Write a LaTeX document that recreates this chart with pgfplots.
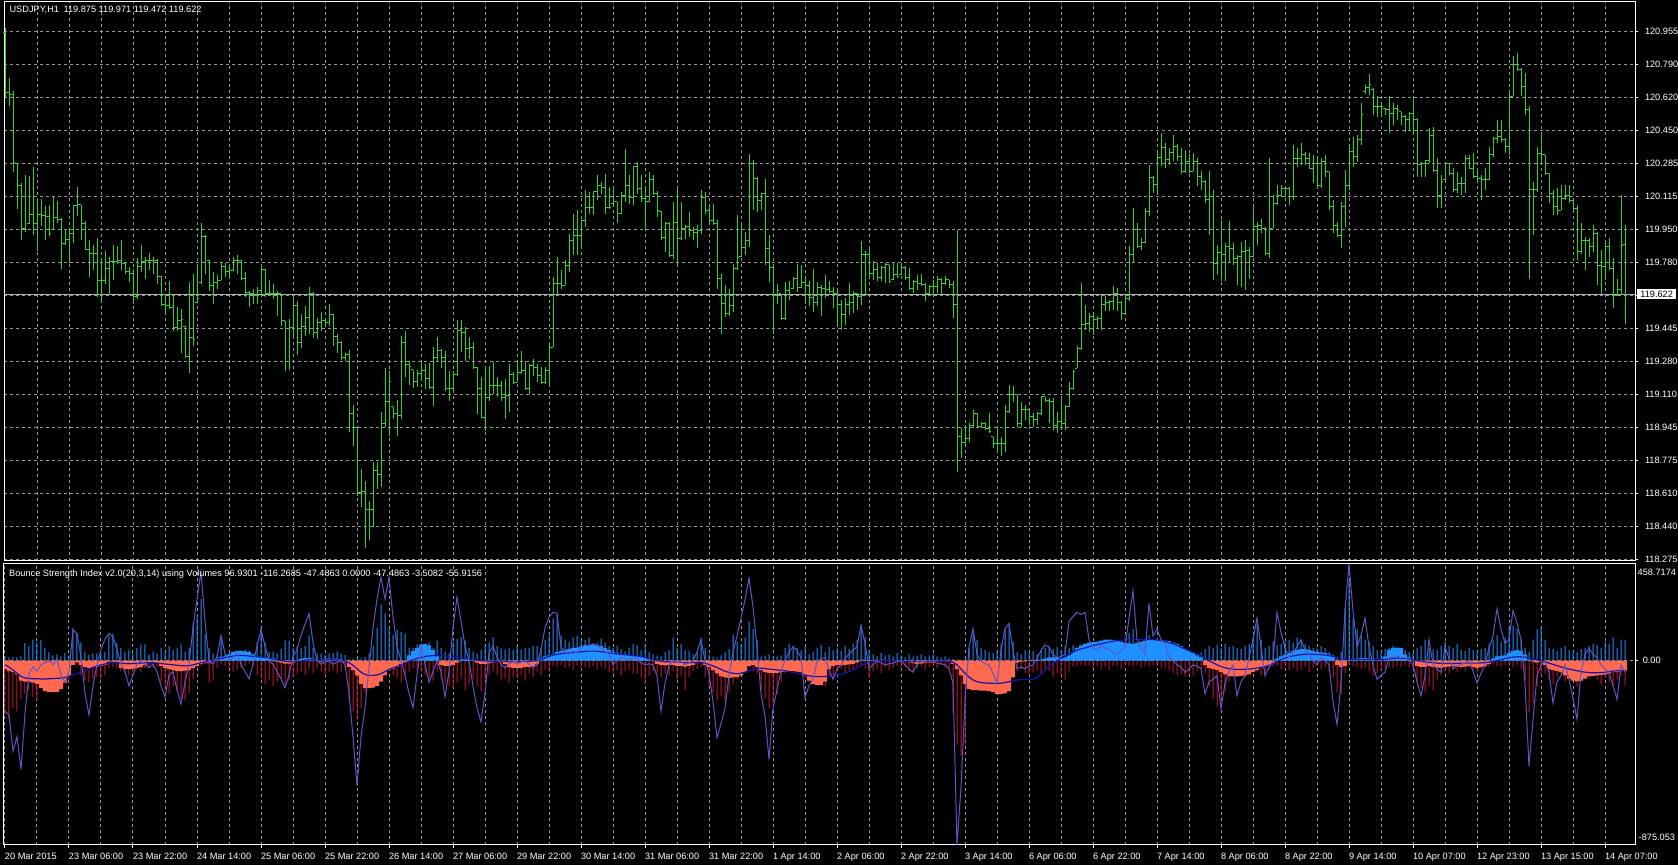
\documentclass[border=0pt]{standalone}
\usepackage{fontspec}
\setmainfont{Liberation Sans}
\usepackage{pgfplots}
\usepackage{pgfplotstable}
\pgfplotsset{compat=1.18}
\definecolor{barg}{RGB}{55,205,45}
\definecolor{gridc}{RGB}{150,150,150}
\definecolor{pricel}{RGB}{175,175,185}
\definecolor{upb}{RGB}{30,144,255}
\definecolor{dnr}{RGB}{190,25,55}
\definecolor{salm}{RGB}{255,105,80}
\definecolor{sigc}{RGB}{20,20,170}
\definecolor{oscc}{RGB}{95,85,195}
\pgfdeclareplotmark{otick}{\pgfpathmoveto{\pgfqpoint{-1.1pt}{0pt}}\pgfpathlineto{\pgfqpoint{0pt}{0pt}}\pgfusepathqstroke}
\pgfdeclareplotmark{ctick}{\pgfpathmoveto{\pgfqpoint{0pt}{0pt}}\pgfpathlineto{\pgfqpoint{1.1pt}{0pt}}\pgfusepathqstroke}
\newcommand{\lbl}{\fontsize{4.6}{5.5}\selectfont}

\pgfplotstableread{
o h l c
120.950 120.974 120.623 120.648
120.648 120.720 120.580 120.638
120.638 120.652 120.244 120.292
120.285 120.288 120.052 120.172
120.172 120.185 119.897 119.957
119.957 120.228 119.940 119.949
119.980 120.220 119.980 120.026
120.026 120.266 119.924 119.983
119.983 120.110 119.840 120.026
120.026 120.107 119.966 120.021
120.021 120.070 119.897 120.017
120.017 120.077 119.915 119.932
119.950 120.117 119.950 120.009
120.009 120.095 119.983 120.000
120.000 120.009 119.752 119.880
119.880 119.954 119.871 119.897
119.897 119.957 119.781 119.932
119.932 120.077 119.880 120.072
120.072 120.166 120.020 120.077
120.077 120.077 119.897 119.983
119.983 119.992 119.846 119.850
119.850 119.897 119.709 119.829
119.829 119.870 119.742 119.829
119.829 119.905 119.606 119.692
119.692 119.803 119.575 119.692
119.692 119.843 119.675 119.752
119.752 119.812 119.615 119.786
119.786 119.870 119.692 119.786
119.786 119.867 119.774 119.791
119.791 119.897 119.742 119.778
119.778 119.786 119.726 119.735
119.735 119.760 119.683 119.726
119.726 119.752 119.572 119.610
119.610 119.803 119.597 119.760
119.760 119.870 119.734 119.786
119.786 119.812 119.700 119.791
119.791 119.829 119.742 119.795
119.795 119.810 119.726 119.791
119.791 119.800 119.675 119.709
119.709 119.712 119.563 119.568
119.568 119.623 119.520 119.563
119.563 119.690 119.546 119.555
119.555 119.623 119.435 119.452
119.452 119.555 119.435 119.486
119.486 119.546 119.323 119.495
119.460 119.460 119.297 119.306
119.306 119.683 119.220 119.400
119.400 119.726 119.358 119.392
119.580 119.770 119.580 119.598
119.680 119.983 119.675 119.915
119.915 119.923 119.726 119.915
119.795 119.795 119.640 119.666
119.666 119.735 119.572 119.683
119.683 119.717 119.648 119.692
119.692 119.786 119.692 119.760
119.760 119.780 119.709 119.735
119.735 119.777 119.700 119.743
119.743 119.810 119.742 119.795
119.795 119.820 119.726 119.791
119.791 119.795 119.692 119.700
119.700 119.735 119.606 119.632
119.632 119.640 119.555 119.623
119.623 119.649 119.572 119.615
119.615 119.658 119.572 119.641
119.641 119.770 119.623 119.747
119.747 119.752 119.606 119.623
119.623 119.692 119.615 119.623
119.623 119.675 119.597 119.627
119.627 119.640 119.512 119.623
119.623 119.623 119.460 119.486
119.486 119.486 119.232 119.280
119.280 119.495 119.238 119.452
119.452 119.615 119.409 119.563
119.563 119.589 119.315 119.375
119.375 119.520 119.349 119.460
119.460 119.563 119.409 119.503
119.503 119.658 119.418 119.623
119.623 119.632 119.400 119.426
119.426 119.503 119.392 119.478
119.478 119.529 119.435 119.486
119.486 119.503 119.460 119.478
119.478 119.572 119.460 119.520
119.520 119.520 119.358 119.409
119.409 119.418 119.323 119.375
119.375 119.383 119.289 119.298
119.298 119.323 119.280 119.315
119.315 119.340 118.920 119.015
119.015 119.058 118.852 118.946
118.946 118.946 118.595 118.612
118.612 118.732 118.543 118.621
118.621 118.672 118.330 118.526
118.526 118.569 118.372 118.526
118.526 118.767 118.440 118.724
118.724 118.767 118.630 118.706
118.706 119.024 118.640 118.963
118.963 119.246 118.946 119.075
119.075 119.229 118.903 119.178
119.050 119.050 118.990 119.015
119.015 119.083 118.903 119.006
119.006 119.409 118.990 119.375
119.375 119.435 119.203 119.263
119.263 119.280 119.160 119.255
119.238 119.238 119.143 119.178
119.178 119.238 119.150 119.220
119.220 119.280 119.180 119.233
119.233 119.267 119.140 119.191
119.191 119.270 119.140 119.149
119.149 119.355 119.055 119.301
119.301 119.406 119.284 119.335
119.335 119.344 119.247 119.301
119.301 119.335 119.132 119.140
119.140 119.230 119.081 119.140
119.140 119.233 119.132 119.216
119.216 119.488 119.208 119.437
119.437 119.488 119.327 119.428
119.428 119.454 119.284 119.344
119.344 119.403 119.293 119.352
119.352 119.378 119.242 119.250
119.250 119.250 119.013 119.140
119.140 119.200 118.996 118.996
118.996 119.250 118.928 119.098
119.098 119.259 119.081 119.157
119.157 119.276 119.115 119.157
119.157 119.200 119.098 119.157
119.157 119.183 119.081 119.098
119.098 119.191 118.988 119.106
119.106 119.267 119.021 119.216
119.216 119.225 119.166 119.174
119.174 119.276 119.174 119.225
119.225 119.335 119.217 119.233
119.233 119.284 119.135 119.140
119.140 119.267 119.115 119.259
119.259 119.293 119.208 119.250
119.250 119.267 119.174 119.208
119.208 119.250 119.166 119.174
119.174 119.254 119.166 119.233
119.233 119.378 119.166 119.352
119.352 119.708 119.352 119.674
119.674 119.810 119.615 119.674
119.674 119.742 119.649 119.666
119.666 119.793 119.666 119.768
119.768 119.929 119.734 119.895
119.895 120.031 119.819 119.920
119.920 120.048 119.819 119.920
119.920 119.997 119.853 119.997
119.997 120.149 119.963 120.064
120.064 120.140 120.031 120.061
120.061 120.144 120.022 120.141
120.141 120.226 120.098 120.175
120.175 120.191 120.132 120.166
120.166 120.234 120.031 120.064
120.064 120.166 120.056 120.064
120.081 120.158 120.081 120.090
120.090 120.090 119.983 120.031
120.031 120.140 120.031 120.124
120.124 120.361 120.090 120.175
120.175 120.226 120.081 120.115
120.115 120.271 120.073 120.268
120.268 120.293 120.132 120.158
120.158 120.226 120.090 120.107
120.107 120.166 119.946 120.090
120.090 120.243 120.090 120.204
120.204 120.226 120.124 120.132
120.132 120.145 120.014 120.048
120.043 120.043 119.895 119.912
119.912 119.988 119.836 119.983
119.983 119.988 119.810 119.819
119.819 120.090 119.802 119.988
119.988 120.158 119.776 119.903
119.903 120.090 119.895 119.954
119.954 119.971 119.904 119.963
119.963 120.039 119.912 119.946
119.946 119.963 119.895 119.937
119.937 119.971 119.857 119.946
119.946 120.149 119.929 120.115
120.115 120.140 120.031 120.048
120.048 120.081 119.988 119.997
119.997 120.078 119.971 119.983
119.983 119.997 119.649 119.700
119.700 119.725 119.417 119.573
119.573 119.666 119.505 119.522
119.522 119.649 119.513 119.564
119.564 119.776 119.530 119.751
119.751 120.022 119.742 119.810
119.813 119.980 119.813 119.861
119.861 119.937 119.819 119.895
119.895 120.332 119.861 120.285
120.285 120.302 120.048 120.209
120.209 120.217 120.039 120.098
120.098 120.132 120.048 120.132
120.132 120.209 119.768 119.853
119.853 119.920 119.683 119.759
119.759 119.768 119.420 119.615
119.615 119.674 119.573 119.641
119.624 119.624 119.488 119.496
119.496 119.683 119.491 119.641
119.641 119.691 119.590 119.615
119.649 119.708 119.649 119.700
119.700 119.776 119.632 119.658
119.658 119.768 119.657 119.683
119.683 119.708 119.573 119.666
119.666 119.691 119.564 119.607
119.607 119.751 119.530 119.581
119.581 119.683 119.564 119.658
119.658 119.666 119.513 119.649
119.649 119.721 119.602 119.644
119.644 119.687 119.628 119.636
119.636 119.656 119.551 119.627
119.627 119.636 119.466 119.568
119.568 119.593 119.441 119.517
119.517 119.602 119.466 119.568
119.568 119.678 119.517 119.577
119.577 119.636 119.526 119.627
119.627 119.627 119.543 119.610
119.610 119.890 119.568 119.822
119.822 119.839 119.610 119.822
119.822 119.856 119.704 119.729
119.729 119.789 119.695 119.746
119.746 119.780 119.687 119.704
119.704 119.763 119.687 119.755
119.755 119.780 119.678 119.772
119.772 119.772 119.678 119.687
119.695 119.780 119.695 119.721
119.721 119.780 119.704 119.712
119.721 119.780 119.721 119.755
119.755 119.763 119.695 119.704
119.704 119.755 119.644 119.653
119.653 119.695 119.627 119.687
119.687 119.721 119.644 119.678
119.678 119.724 119.661 119.670
119.670 119.678 119.585 119.627
119.627 119.670 119.610 119.661
119.661 119.695 119.619 119.661
119.661 119.712 119.627 119.695
119.695 119.704 119.619 119.678
119.678 119.716 119.670 119.695
119.695 119.695 119.653 119.670
119.670 119.687 119.500 119.568
119.568 119.950 118.720 118.900
118.900 118.940 118.790 118.870
118.870 118.957 118.856 118.890
118.890 118.966 118.873 118.957
118.957 119.034 118.940 119.017
119.017 119.017 118.940 118.949
118.949 118.974 118.940 118.966
118.966 118.974 118.932 118.941
118.941 119.017 118.915 118.924
118.898 118.898 118.839 118.864
118.864 118.949 118.820 118.864
118.864 118.898 118.800 118.864
118.864 119.059 118.820 119.025
119.025 119.161 119.017 119.110
119.110 119.153 119.076 119.110
119.110 119.110 118.949 118.966
118.966 119.076 118.949 119.034
119.034 119.059 118.983 119.034
119.034 119.034 118.957 119.000
119.000 119.017 118.949 118.983
118.983 119.025 118.957 119.017
119.017 119.101 119.008 119.101
119.101 119.101 119.076 119.084
119.084 119.093 118.966 119.076
119.076 119.093 118.932 118.957
118.957 119.025 118.915 118.974
118.974 119.101 118.932 118.966
118.966 119.059 118.932 119.051
119.051 119.178 119.051 119.144
119.144 119.237 119.136 119.230
119.246 119.356 119.246 119.348
119.348 119.678 119.339 119.466
119.466 119.568 119.441 119.475
119.475 119.526 119.432 119.509
119.509 119.526 119.415 119.492
119.492 119.509 119.450 119.500
119.500 119.619 119.441 119.568
119.568 119.610 119.534 119.577
119.577 119.593 119.534 119.582
119.582 119.661 119.543 119.627
119.627 119.653 119.534 119.577
119.577 119.585 119.492 119.526
119.526 119.610 119.526 119.602
119.602 119.865 119.585 119.822
119.822 120.060 119.780 119.950
119.950 119.984 119.856 119.865
119.865 119.907 119.848 119.882
119.882 120.060 119.882 120.043
120.043 120.280 120.017 120.213
120.213 120.221 120.136 120.179
120.179 120.348 120.136 120.314
120.314 120.442 120.272 120.365
120.365 120.390 120.263 120.306
120.306 120.365 120.280 120.340
120.340 120.430 120.297 120.374
120.374 120.382 120.297 120.323
120.323 120.365 120.230 120.246
120.246 120.352 120.238 120.297
120.297 120.335 120.238 120.246
120.246 120.340 120.246 120.297
120.297 120.314 120.170 120.221
120.221 120.246 120.153 120.196
120.196 120.204 120.085 120.103
120.103 120.246 119.924 120.119
120.119 120.153 119.695 119.780
119.780 119.873 119.721 119.831
119.831 120.000 119.687 119.822
119.822 119.882 119.687 119.865
119.865 119.992 119.780 119.856
119.856 119.882 119.772 119.805
119.805 119.823 119.670 119.814
119.814 119.888 119.659 119.837
119.837 119.896 119.642 119.842
119.842 119.862 119.701 119.811
119.811 120.074 119.811 119.964
119.964 119.990 119.871 119.973
119.973 120.006 119.930 119.956
119.956 119.964 119.820 119.828
119.828 120.312 119.803 119.956
119.956 120.125 119.956 120.083
120.083 120.176 120.074 120.125
120.125 120.176 120.117 120.159
120.159 120.168 120.117 120.159
120.159 120.168 120.074 120.117
120.117 120.380 120.100 120.312
120.312 120.363 120.270 120.312
120.312 120.388 120.278 120.329
120.329 120.346 120.278 120.312
120.312 120.337 120.261 120.261
120.261 120.329 120.185 120.286
120.286 120.320 120.159 120.176
120.176 120.312 120.159 120.295
120.295 120.329 120.219 120.244
120.244 120.244 120.049 120.066
120.066 120.100 119.930 119.973
119.973 119.990 119.913 119.922
119.922 120.091 119.854 120.066
120.066 120.252 119.964 120.176
120.176 120.380 120.151 120.346
120.346 120.422 120.270 120.320
120.320 120.430 120.295 120.405
120.405 120.592 120.380 120.532
120.650 120.685 120.640 120.670
120.670 120.741 120.634 120.685
120.660 120.668 120.532 120.575
120.575 120.626 120.524 120.575
120.575 120.592 120.524 120.575
120.566 120.566 120.532 120.558
120.558 120.626 120.439 120.541
120.541 120.592 120.481 120.566
120.566 120.583 120.507 120.558
120.549 120.549 120.481 120.524
120.524 120.532 120.447 120.507
120.507 120.549 120.456 120.541
120.541 120.617 120.430 120.507
120.507 120.515 120.218 120.278
120.278 120.295 120.218 120.286
120.286 120.303 120.218 120.303
120.303 120.464 120.286 120.430
120.430 120.473 120.244 120.252
120.252 120.312 120.057 120.125
120.125 120.227 120.057 120.193
120.202 120.295 120.202 120.286
120.286 120.286 120.227 120.235
120.235 120.261 120.142 120.151
120.151 120.244 120.134 120.185
120.185 120.218 120.125 120.185
120.185 120.329 120.134 120.312
120.312 120.329 120.261 120.261
120.261 120.337 120.210 120.218
120.218 120.261 120.202 120.210
120.210 120.227 120.100 120.202
120.202 120.261 120.151 120.202
120.202 120.371 120.202 120.329
120.329 120.422 120.320 120.414
120.414 120.507 120.388 120.422
120.422 120.507 120.397 120.405
120.405 120.413 120.337 120.371
120.371 120.651 120.329 120.626
120.626 120.829 120.626 120.787
120.787 120.846 120.753 120.761
120.761 120.770 120.626 120.676
120.676 120.744 120.532 120.558
120.558 120.575 119.701 120.151
120.151 120.193 119.922 120.151
120.151 120.371 120.142 120.337
120.337 120.439 120.295 120.329
120.329 120.329 120.227 120.235
120.235 120.235 120.083 120.134
120.134 120.151 120.023 120.066
120.066 120.159 120.023 120.049
120.049 120.176 120.049 120.108
120.108 120.176 120.100 120.125
120.125 120.176 120.083 120.100
120.100 120.108 120.049 120.057
120.057 120.074 119.794 119.837
119.837 119.981 119.828 119.896
119.896 119.913 119.744 119.896
119.896 119.905 119.811 119.862
119.862 119.973 119.837 119.930
119.930 119.939 119.667 119.769
119.769 119.845 119.625 119.761
119.761 119.888 119.693 119.862
119.862 119.905 119.744 119.752
119.752 119.803 119.549 119.617
119.617 119.701 119.616 119.645
119.645 120.125 119.616 119.870
119.875 119.971 119.472 119.622
}\price

\pgfplotstableread{
up dn ar sg os
17 -258 -40 -20 -240
15 -275 -50 -30 -258
18 -224 -55 -45 -430
17 -241 -65 -60 -361
20 -181 -95 -75 -516
83 -155 -100 -82 -250
69 -138 -100 -85 -60
100 -172 -105 -86 -30
86 -189 -110 -86 -50
100 -120 -130 -87 -20
60 -95 -145 -87 -10
40 -86 -150 -86 0
25 -77 -150 -85 -20
30 -69 -148 -84 10
20 -52 -135 -83 -69
35 -77 -105 -80 -103
25 -95 -70 -75 -52
155 -17 -20 -68 146
129 -26 -8 -62 129
86 -69 -20 -55 17
43 -95 -30 -48 -155
26 -103 -35 -40 -258
34 -86 -35 -32 -120
34 -77 -30 -26 -17
34 -95 -25 -20 52
43 -69 -20 -16 103
120 -34 -5 -12 129
129 -30 -5 -10 112
83 -34 -10 -10 52
60 -52 -35 -12 -17
43 -60 -40 -14 -52
52 -69 -40 -15 -120
34 -52 -38 -14 -69
60 -43 -35 -13 -17
77 -52 -30 -12 0
77 -34 -20 -10 -17
26 -26 -10 -9 -34
43 -34 -8 -10 -17
34 -30 -10 -12 -52
60 -103 -25 -14 -120
43 -138 -35 -16 -172
69 -155 -40 -18 -69
52 -120 -45 -20 -52
60 -146 -50 -22 -138
77 -181 -50 -24 -206
43 -189 -48 -25 -103
60 -155 -45 -24 -17
180 -86 -35 -20 155
206 -34 -25 -15 292
292 -26 -15 -10 421
125 -17 -10 -6 189
60 -103 -12 -5 0
34 -95 -5 -2 -17
26 -34 10 5 17
103 -17 18 10 120
34 -26 20 14 34
43 -34 30 18 0
34 -52 42 22 17
26 -43 46 25 34
38 -34 46 25 -17
52 -26 44 24 -52
48 -17 40 22 -86
34 -26 30 20 -17
86 -69 20 18 69
155 -86 18 17 146
86 -112 15 15 69
43 -95 14 12 0
43 -120 12 8 -17
34 -103 -5 4 -52
55 -86 -10 0 -86
95 -112 -14 -3 -129
95 -95 -14 -5 -69
60 -77 -10 -5 17
69 -60 -5 -4 52
60 -52 8 -2 120
69 -69 12 2 172
120 -43 12 4 224
60 -60 10 4 86
34 -34 5 3 0
34 -52 -5 2 -17
26 -69 8 3 -8
34 -52 10 4 0
38 -43 10 4 -17
43 -60 8 3 -8
34 -52 6 2 0
26 -34 -5 0 -17
9 -189 -30 -10 -155
9 -241 -45 -22 -361
12 -284 -70 -38 -593
9 -224 -110 -55 -361
17 -155 -130 -66 -224
34 -120 -130 -70 -34
69 -86 -128 -70 155
155 -69 -120 -68 292
267 -52 -100 -62 396
224 -60 -70 -52 292
155 -34 -45 -42 396
120 -69 -40 -35 206
146 -86 -30 -28 69
138 -103 -15 -20 0
129 -69 -8 -12 -69
60 -52 25 -4 -155
60 -34 45 4 -224
77 -43 60 10 -69
77 -52 75 15 69
77 -69 78 20 -17
86 -86 72 22 -103
60 -95 50 24 -52
95 -52 20 25 0
60 -86 -20 24 -52
43 -112 -25 22 -172
34 -120 -25 20 -52
86 -129 -20 18 155
103 -103 -10 16 301
112 -86 5 14 189
95 -138 6 12 69
60 -112 4 8 0
43 -86 3 5 -120
34 -120 -10 2 -224
52 -146 -15 0 -292
77 -95 -15 -2 -155
86 -69 -12 -3 34
112 -52 -8 -3 69
69 -69 -3 -2 17
60 -95 -5 -2 -17
52 -86 -15 -3 -34
60 -103 -30 -5 -17
52 -77 -35 -6 0
69 -86 -35 -6 -17
52 -69 -35 -5 -8
60 -95 -30 -4 0
60 -60 -30 -3 -17
69 -77 -25 -2 -34
69 -52 -15 0 -17
60 -69 10 5 52
100 -43 20 12 155
120 -52 25 20 206
200 -25 30 26 229
220 -30 40 30 225
120 -20 45 33 65
100 -35 50 35 40
90 -30 55 37 30
110 -45 60 38 45
117 -25 62 40 35
95 -40 66 42 60
100 -30 70 44 75
110 -35 74 45 70
80 -25 74 45 80
85 -40 72 44 70
105 -30 70 42 60
85 -40 60 40 45
70 -55 50 37 30
60 -60 40 34 -20
70 -45 35 32 0
55 -70 32 30 15
45 -50 30 28 10
60 -40 28 26 0
80 -60 25 24 20
75 -60 22 22 5
50 -80 18 20 -10
80 -110 12 15 -20
40 -70 6 10 -15
30 -50 0 5 -20
25 -60 -15 0 -72
20 -80 -20 -3 -241
40 -60 -22 -5 -107
50 -70 -20 -6 -20
108 -50 -20 -6 0
60 -90 -25 -7 -10
80 -70 -25 -8 -5
50 -140 -28 -10 -20
45 -80 -25 -10 -10
30 -50 -20 -9 0
40 -40 -12 -8 40
108 -30 -8 -8 100
60 -80 -20 -12 0
30 -120 -30 -18 -60
20 -150 -45 -25 -193
15 -190 -60 -33 -365
25 -170 -75 -42 -300
40 -200 -80 -50 -227
55 -150 -82 -56 -72
125 -110 -80 -60 40
90 -90 -78 -62 117
80 -60 -70 -60 200
110 -40 -55 -55 289
186 -30 -25 -48 392
150 -50 -20 -42 255
100 -60 -30 -38 65
20 -140 -45 -36 -158
25 -180 -55 -38 -261
30 -227 -58 -40 -468
15 -200 -60 -42 -227
20 -160 -58 -44 -140
25 -100 -55 -46 -50
60 -60 -52 -48 0
80 -50 -50 -52 40
70 -40 -50 -56 65
60 -55 -52 -60 48
50 -60 -55 -64 14
65 -80 -70 -68 -175
30 -100 -95 -72 -120
40 -90 -110 -75 -89
60 -120 -115 -76 -3
75 -110 -115 -76 10
40 -124 -100 -75 14
65 -80 -40 -74 -40
50 -70 -25 -72 -89
60 -50 -20 -70 -40
45 -40 -22 -66 -20
70 -60 -20 -60 10
55 -45 -18 -52 30
80 -40 -15 -44 50
100 -30 -8 -35 65
168 -20 5 -25 168
110 -40 5 -15 82
50 -80 0 -8 -38
30 -50 -3 -4 -20
20 -40 4 -2 -3
35 -60 5 0 -10
25 -30 3 0 -20
30 -45 -2 0 -15
20 -35 3 -1 -12
35 -25 2 -2 -5
25 -40 2 -2 0
15 -30 -5 -3 -20
30 -50 -8 -4 -40
20 -45 -12 -5 -55
25 -35 -15 -6 -20
30 -30 -14 -6 -5
20 -40 -12 -6 0
25 -30 -10 -5 0
30 -25 -8 -4 -5
20 -35 -3 -3 -12
15 -20 -2 -2 -15
20 -30 -2 -2 -20
10 -40 -5 -3 -38
10 -250 -15 -8 -107
5 -400 -40 -20 -875.053
5 -450 -70 -40 -600
8 -400 -110 -60 -193
60 -60 -135 -78 65
150 -50 -140 -92 151
100 -40 -140 -100 30
60 -55 -142 -104 -3
50 -45 -142 -106 -15
40 -60 -145 -107 -20
35 -50 -150 -108 -60
45 -70 -158 -108 -107
80 -40 -158 -107 48
150 -30 -155 -104 151
170 -35 -145 -100 177
90 -60 -80 -96 48
40 -50 -10 -92 -38
30 -40 -5 -90 -30
50 -60 -3 -90 -38
35 -70 -2 -90 -25
45 -55 2 -88 -20
30 -45 3 -80 10
50 -60 5 -65 48
60 -40 10 -45 74
70 -50 15 -28 65
55 -80 15 -12 30
65 -60 14 0 14
50 -70 12 10 20
70 -90 15 20 30
60 -50 25 30 186
75 -30 40 40 210
60 -25 60 50 229
70 -20 72 56 220
80 -25 80 60 229
50 -20 85 66 100
60 -35 88 72 60
40 -25 90 76 50
55 -40 95 80 70
45 -30 100 84 60
60 -45 100 88 55
50 -25 98 92 40
40 -30 95 95 30
60 -40 90 97 45
80 -20 85 98 65
130 -25 82 99 200
150 -30 80 100 332
80 -20 85 100 100
60 -35 90 100 60
50 -25 95 100 30
120 -30 98 100 272
100 -20 100 100 117
80 -25 98 98 151
50 -35 95 95 100
40 -40 95 90 82
45 -45 92 85 14
35 -60 85 80 0
40 -70 80 72 -20
30 -65 70 64 -30
35 -75 55 56 -55
30 -60 45 48 -40
25 -70 35 40 -20
30 -50 25 32 -25
40 -40 15 24 -38
55 -60 -20 12 -158
70 -120 -35 0 -100
60 -180 -40 -10 -89
75 -218 -45 -20 -72
60 -190 -55 -28 -227
80 -150 -65 -34 -107
65 -100 -72 -38 -50
70 -70 -75 -40 -20
60 -60 -75 -42 -167
55 -50 -72 -42 -100
70 -80 -70 -41 -72
80 -60 -65 -40 14
110 -40 -55 -38 100
200 -50 -45 -35 203
100 -70 -35 -32 65
60 -55 -30 -28 -72
70 -40 -25 -22 -30
90 -30 -15 -15 -3
75 -25 10 -5 229
80 -40 20 5 134
90 -30 28 12 60
100 -45 35 18 14
85 -35 45 22 40
110 -50 50 26 65
95 -40 55 28 100
80 -30 55 30 50
70 -55 50 30 30
60 -35 45 30 0
55 -25 40 29 -20
70 -40 38 28 14
60 -30 35 26 0
40 -50 30 24 -20
30 -80 20 20 -193
20 -150 -20 14 -304
40 -160 -30 10 -107
250 -60 -25 8 237
380 -20 5 6 458.7174
200 -25 8 5 237
150 -30 10 5 65
120 -40 12 5 120
100 -35 12 5 203
90 -50 10 5 65
70 -70 8 4 -20
50 -60 6 4 -89
45 -45 8 5 -70
55 -40 20 6 -55
60 -30 50 8 14
70 -35 60 10 20
60 -25 62 12 22
55 -30 60 12 14
50 -20 30 10 14
40 -30 15 8 0
35 -40 5 5 -20
60 -100 -25 0 -100
70 -130 -30 -3 -167
100 -150 -30 -6 -72
60 -120 -25 -8 100
55 -140 -30 -10 -20
50 -90 -32 -12 -40
70 -70 -35 -13 -55
90 -50 -30 -14 65
70 -60 -28 -14 10
60 -45 -25 -14 -38
80 -55 -28 -13 -25
50 -40 -30 -12 -20
45 -50 -28 -12 -10
60 -35 -25 -12 -3
50 -45 -30 -12 -50
45 -60 -35 -12 -107
55 -40 -30 -11 -60
60 -35 -25 -10 -20
80 -30 -15 -8 60
100 -20 10 -4 117
120 -25 20 0 246
90 -30 22 5 150
110 -20 25 10 82
160 -25 35 14 100
165 -30 45 17 237
150 -20 50 18 180
100 -40 45 18 100
60 -90 30 16 -107
40 -244 5 12 -502
100 -200 -5 8 -279
150 -120 -10 4 -72
160 -70 -5 0 -20
100 -60 -20 -5 -3
60 -90 -40 -12 -55
55 -110 -45 -18 -201
45 -80 -50 -24 -100
60 -70 -55 -30 -72
70 -100 -70 -35 -20
50 -80 -85 -40 -89
45 -90 -95 -44 -180
40 -124 -98 -48 -279
55 -100 -95 -52 -55
60 -70 -85 -55 30
70 -80 -75 -57 57
80 -60 -72 -58 30
75 -90 -70 -58 14
60 -110 -68 -57 -20
90 -80 -65 -55 -40
80 -100 -60 -52 -55
110 -120 -55 -50 -120
60 -90 -55 -48 -184
100 -70 -50 -47 -20
97 -116 -47 -47 -56
}\ind

\begin{document}
\begin{tikzpicture}
\fill[black] (0,0) rectangle (839pt,432.5pt);
% ---------------- price panel ----------------
\begin{axis}[
  at={(2pt,152pt)}, anchor=south west,
  scale only axis, width=815.5pt, height=279.75pt,
  xmin=-0.25, xmax=407.5, ymin=118.2664, ymax=121.1084,
  axis line style={white, line width=0.5pt},
  xtick={8,16,...,400}, xticklabels={}, xtick style={draw=none},
  ytick={120.955,120.7875,120.62,120.4525,120.285,120.1175,119.95,119.7825,119.615,119.4475,119.28,119.1125,118.945,118.7775,118.61,118.4425,118.275},
  yticklabels={120.955,120.790,120.620,120.450,120.285,120.115,119.950,119.780,{},119.445,119.280,119.110,118.945,118.775,118.610,118.440,118.275},
  ytick pos=right, yticklabel pos=right,
  tick align=outside, major tick length=1.5pt,
  ytick style={white, line width=0.5pt},
  xmajorgrids, ymajorgrids,
  major grid style={gridc, line width=0.5pt, dash pattern=on 1.5pt off 1.5pt},
  yticklabel style={anchor=west, inner sep=0pt, xshift=3.3pt, text=white, font=\lbl},
]
\addplot[pricel, line width=0.5pt] coordinates {(-0.25,119.622) (407.5,119.622)};
\addplot[barg, only marks, mark=otick, mark options={barg, line width=0.5pt, solid},
  error bars/.cd, y dir=both, y explicit, error mark=none, error bar style={barg, line width=0.5pt, solid}]
  table[x expr=\coordindex, y=o, y error plus expr={\thisrow{h}-\thisrow{o}}, y error minus expr={\thisrow{o}-\thisrow{l}}] {\price};
\addplot[barg, only marks, mark=ctick, mark options={barg, line width=0.5pt, solid}] table[x expr=\coordindex, y=c] {\price};
\coordinate (pl) at (axis cs:407.5,119.622);
\end{axis}
% ---------------- indicator panel ----------------
\begin{axis}[
  at={(2pt,10pt)}, anchor=south west,
  scale only axis, width=815.5pt, height=140.5pt,
  xmin=-0.25, xmax=407.5, ymin=-875.053, ymax=458.7174,
  axis line style={white, line width=0.5pt},
  xtick={0,16,...,400},
  xticklabels={20 Mar 2015,23 Mar 06:00,23 Mar 22:00,24 Mar 14:00,25 Mar 06:00,25 Mar 22:00,26 Mar 14:00,27 Mar 06:00,29 Mar 22:00,30 Mar 14:00,31 Mar 06:00,31 Mar 22:00,1 Apr 14:00,2 Apr 06:00,2 Apr 22:00,3 Apr 14:00,6 Apr 06:00,6 Apr 22:00,7 Apr 14:00,8 Apr 06:00,8 Apr 22:00,9 Apr 14:00,10 Apr 07:00,12 Apr 23:00,13 Apr 15:00,14 Apr 07:00},
  minor xtick={8,24,...,392},
  xtick pos=left, ytick pos=right, yticklabel pos=right,
  ytick={0}, yticklabels={0.00},
  tick align=outside, major tick length=1.5pt, minor tick length=0pt,
  tick style={white, line width=0.5pt},
  xmajorgrids, xminorgrids, ymajorgrids,
  major grid style={gridc, line width=0.5pt, dash pattern=on 1.5pt off 1.5pt},
  minor grid style={gridc, line width=0.5pt, dash pattern=on 1.5pt off 1.5pt},
  xticklabel style={anchor=north west, inner sep=0pt, yshift=-2.5pt, xshift=-0.2pt, text=white, font=\lbl},
  yticklabel style={anchor=west, inner sep=0pt, xshift=2.2pt, text=white, font=\lbl},
]
\addplot[ybar, bar width=0.5pt, bar shift=0pt, fill=upb, draw=none] table[x expr=\coordindex, y=up] {\ind};
\addplot[ybar, bar width=0.5pt, bar shift=0pt, fill=dnr, draw=none] table[x expr=\coordindex, y=dn] {\ind};
\addplot[ybar, bar width=2.1pt, bar shift=0pt, fill=salm, draw=none] table[x expr=\coordindex, y expr={min(\thisrow{ar},0)}] {\ind};
\addplot[ybar, bar width=2.1pt, bar shift=0pt, fill=upb, draw=none] table[x expr=\coordindex, y expr={max(\thisrow{ar},0)}] {\ind};
\addplot[sigc, line width=0.6pt] table[x expr=\coordindex, y=sg] {\ind};
\addplot[oscc, line width=0.5pt] table[x expr=\coordindex, y=os] {\ind};
\coordinate (itop) at (rel axis cs:1,1);
\coordinate (ibot) at (rel axis cs:1,0);
\end{axis}
% ---------------- texts ----------------
\node[anchor=west, inner sep=0pt, fill=white, text=black, font=\lbl, inner xsep=1.6pt, inner ysep=0.9pt] at ([xshift=0.9pt]pl) {119.622};
\node[anchor=north west, inner sep=0pt, text=white, font=\lbl] at ([xshift=1.15pt, yshift=-2.2pt]itop) {458.7174};
\node[anchor=south west, inner sep=0pt, text=white, font=\lbl] at ([xshift=1.65pt, yshift=2pt]ibot) {-875.053};
\node[anchor=west, inner sep=0pt, text=white, font=\lbl] at (4.6pt,427.75pt) {USDJPY,H1\hspace{0.5em}119.875 119.971 119.472 119.622};
\node[anchor=west, inner sep=0pt, text=white, font=\lbl] at (4.4pt,145.5pt) {Bounce Strength Index v2.0(20,3,14) using Volumes 96.9301 -116.2685 -47.4863 0.0000 -47.4863 -3.5082 -55.9156};
\pgfresetboundingbox
\path (0,0) rectangle (839pt,432.5pt);
\end{tikzpicture}
\end{document}
